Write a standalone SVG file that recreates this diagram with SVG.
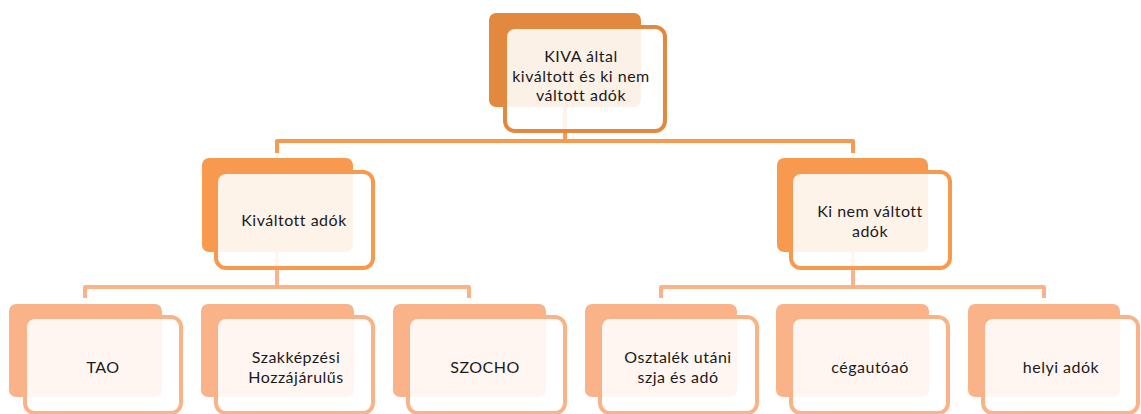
<svg xmlns="http://www.w3.org/2000/svg" width="1141" height="414" viewBox="0 0 1141 414">
  <style>
    .back { stroke: none; }
    .front { fill: #ffffff; fill-opacity: 0.88; stroke-width: 4; }
    .l1 .back { fill: #E3893F; }
    .l1 .front { stroke: #E3893F; }
    .l2 .back { fill: #F79A4F; }
    .l2 .front { stroke: #F79A4F; }
    .l3 .back { fill: #FAB389; }
    .l3 .front { stroke: #FAB389; }
    .conn { fill: none; stroke-width: 4; stroke-linejoin: round; }
    .c1 { stroke: #F79A4F; }
    .c2 { stroke: #FAB389; }
    text { font-family: Lato, "Liberation Sans", sans-serif; font-size: 16px; letter-spacing: 0.5px; fill: #1a1a1a; text-anchor: middle; }
  </style>

  <!-- connectors: drawn first so the translucent front cards sit over them -->
  <g id="connectors">
    <path class="conn c1" d="M565 107 V141 M277 153 V141 H853 V153"/>
    <path class="conn c2" d="M277 252 V287 M85 298 V287 H469 V298"/>
    <path class="conn c2" d="M853 252 V287 M661 298 V287 H1044 V298"/>
  </g>

  <!-- level 1 -->
  <g id="node-kiva" class="l1">
    <rect class="back" x="489" y="13" width="152" height="94" rx="7"/>
    <rect class="front" x="505" y="27" width="160" height="104" rx="10"/>
    <text x="581" y="62">KIVA által</text>
    <text x="581" y="81.5">kiváltott és ki nem</text>
    <text x="581" y="101">váltott adók</text>
  </g>

  <!-- level 2 -->
  <g id="node-kivaltott" class="l2">
    <rect class="back" x="202" y="158" width="151" height="94" rx="7"/>
    <rect class="front" x="216" y="172" width="157" height="96" rx="10"/>
    <text x="294" y="226">Kiváltott adók</text>
  </g>
  <g id="node-ki-nem" class="l2">
    <rect class="back" x="777" y="158" width="151" height="94" rx="7"/>
    <rect class="front" x="791" y="172" width="159" height="96" rx="10"/>
    <text x="870" y="217">Ki nem váltott</text>
    <text x="870" y="237">adók</text>
  </g>

  <!-- level 3 -->
  <g id="node-tao" class="l3">
    <rect class="back" x="9" y="304" width="153" height="93" rx="7"/>
    <rect class="front" x="25" y="317" width="156" height="96" rx="10"/>
    <text x="103" y="373">TAO</text>
  </g>
  <g id="node-szakkepzesi" class="l3">
    <rect class="back" x="201" y="304" width="153" height="93" rx="7"/>
    <rect class="front" x="216" y="317" width="157" height="96" rx="10"/>
    <text x="296" y="363">Szakképzési</text>
    <text x="296" y="383">Hozzájárulűs</text>
  </g>
  <g id="node-szocho" class="l3">
    <rect class="back" x="393" y="304" width="153" height="93" rx="7"/>
    <rect class="front" x="408" y="317" width="157" height="96" rx="10"/>
    <text x="485" y="373">SZOCHO</text>
  </g>
  <g id="node-osztalek" class="l3">
    <rect class="back" x="585" y="304" width="152" height="93" rx="7"/>
    <rect class="front" x="600" y="317" width="157" height="96" rx="10"/>
    <text x="678" y="363">Osztalék utáni</text>
    <text x="678" y="383">szja és adó</text>
  </g>
  <g id="node-cegauto" class="l3">
    <rect class="back" x="776" y="304" width="153" height="93" rx="7"/>
    <rect class="front" x="791" y="317" width="157" height="96" rx="10"/>
    <text x="870" y="373">cégautóaó</text>
  </g>
  <g id="node-helyi" class="l3">
    <rect class="back" x="968" y="304" width="152" height="93" rx="7"/>
    <rect class="front" x="983" y="317" width="155" height="96" rx="10"/>
    <text x="1061" y="373">helyi adók</text>
  </g>
</svg>
